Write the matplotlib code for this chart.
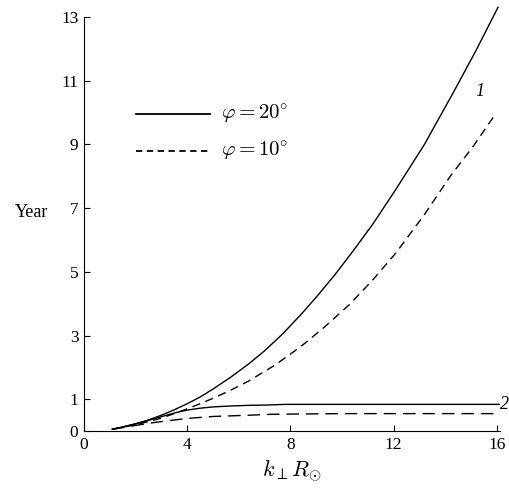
import matplotlib
matplotlib.use("Agg")
import matplotlib.pyplot as plt

plt.rcParams['mathtext.fontset'] = 'cm'
plt.rcParams['font.family'] = ['Liberation Serif', 'DejaVu Serif']

# curve 1, phi = 20 deg (solid)
x_s1 = [1.1, 1.5, 2.0, 2.5, 3.0, 3.5, 4.0, 4.5, 5.0, 5.7, 6.4, 7.0, 7.7, 8.4, 9.0, 9.7,
        10.4, 11.2, 12.1, 13.2, 14.3, 15.2, 16.05]
y_s1 = [0.06, 0.13, 0.23, 0.35, 0.5, 0.67, 0.86, 1.07, 1.32, 1.7, 2.12, 2.52, 3.05, 3.65,
        4.2, 4.88, 5.62, 6.5, 7.6, 9.0, 10.6, 11.95, 13.3]
# curve 1, phi = 10 deg (dashed)
x_d1 = [1.1, 1.5, 2.0, 2.5, 3.0, 3.5, 4.0, 4.5, 5.0, 5.7, 6.4, 7.4, 8.4, 9.3, 10.3,
        11.2, 12.1, 13.2, 14.2, 15.1, 15.95]
y_d1 = [0.06, 0.12, 0.2, 0.3, 0.41, 0.55, 0.7, 0.86, 1.03, 1.29, 1.58, 2.07, 2.65, 3.25,
        3.98, 4.75, 5.6, 6.8, 8.0, 8.95, 9.95]
# curve 2, phi = 20 deg (solid)
x_s2 = [1.1, 1.5, 2.0, 2.5, 2.8, 3.2, 3.6, 4.0, 4.5, 5.0, 5.7, 6.4, 7.1, 7.8, 10.0, 16.1]
y_s2 = [0.06, 0.13, 0.23, 0.34, 0.41, 0.5, 0.59, 0.66, 0.72, 0.76, 0.79, 0.81, 0.82, 0.84,
        0.84, 0.84]
# curve 2, phi = 10 deg (dashed)
x_d2 = [1.1, 1.5, 2.0, 2.4, 2.8, 3.4, 4.0, 4.5, 5.0, 5.7, 6.4, 7.3, 10.0, 16.1]
y_d2 = [0.06, 0.11, 0.18, 0.23, 0.28, 0.34, 0.4, 0.43, 0.46, 0.48, 0.5, 0.53, 0.55, 0.55]

xticks = [0, 4, 8, 12, 16]
yticks = [0, 1, 3, 5, 7, 9, 11, 13]

fig = plt.figure(figsize=(5.09, 4.95), dpi=100)
ax = fig.add_axes([0.165, 0.129, 0.817, 0.837])

lw = 1.0
ax.plot(x_s1, y_s1, color='black', lw=lw, clip_on=False)
ax.plot(x_d1, y_d1, color='black', lw=lw, dashes=(6, 4))
ax.plot(x_s2, y_s2, color='black', lw=lw)
ax.plot(x_d2, y_d2, color='black', lw=lw, dashes=(9, 5))

ax.set_xlim(0, 16.12)
ax.set_ylim(0, 13)
ax.set_xticks(xticks)
ax.set_yticks(yticks)
ax.tick_params(direction='in', length=4, width=0.8, labelsize=12.5, pad=4)
for s in ['top', 'right']:
    ax.spines[s].set_visible(False)
for s in ['left', 'bottom']:
    ax.spines[s].set_linewidth(0.8)

ax.set_xlabel(r'$k_{\perp}R_{\odot}$', fontsize=16, labelpad=3)
ax.text(-2.05, 6.85, 'Year', fontsize=13, ha='center', va='center', clip_on=False)

# legend drawn manually
ax.plot([2.0, 4.9], [9.95, 9.95], color='black', lw=1.3, clip_on=False)
ax.plot([2.0, 4.9], [8.78, 8.78], color='black', lw=1.3, dashes=(3.5, 2.5), clip_on=False)
ax.text(5.3, 9.95, r'$\varphi = 20^{\circ}$', fontsize=15, va='center', ha='left')
ax.text(5.3, 8.78, r'$\varphi = 10^{\circ}$', fontsize=15, va='center', ha='left')

ax.text(15.35, 10.66, '1', fontsize=13, style='italic', ha='center', va='center')
ax.text(16.3, 0.84, '2', fontsize=13, style='italic', ha='center', va='center', clip_on=False)

fig.savefig('out.png', dpi=100)
